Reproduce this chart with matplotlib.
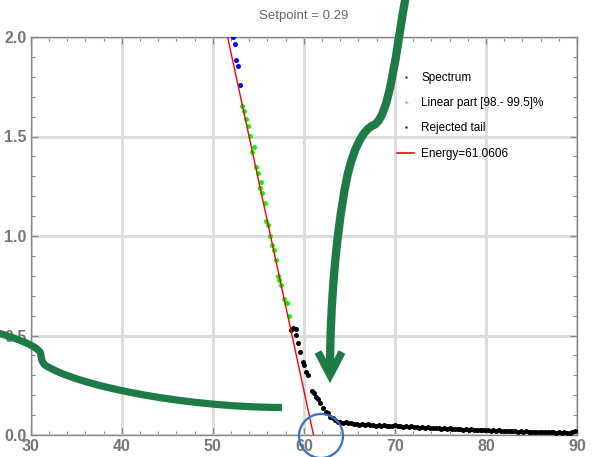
import matplotlib
matplotlib.use("Agg")
import matplotlib.pyplot as plt
import numpy as np
from matplotlib.lines import Line2D
from matplotlib.path import Path
from matplotlib.patches import PathPatch, Ellipse

plt.rcParams['font.family'] = ['Liberation Sans', 'DejaVu Sans']

# spectrum points (energy, intensity)
blue_x = [52.18, 52.40, 52.58, 52.80, 53.02]
blue_y = [2.00, 1.963, 1.883, 1.854, 1.757]

green_x = [53.24, 53.46, 53.65, 53.87, 54.09, 54.30, 54.49, 54.71, 54.93, 55.15,
           55.33, 55.40, 55.68, 55.84, 56.03, 56.25, 56.50, 56.69, 56.94, 57.13,
           57.30, 57.52, 57.79, 58.04, 58.18, 58.40]
green_y = [1.655, 1.628, 1.586, 1.553, 1.501, 1.422, 1.446, 1.347, 1.318, 1.239,
           1.273, 1.216, 1.166, 1.074, 1.055, 1.001, 0.955, 0.930, 0.879, 0.801,
           0.779, 0.754, 0.685, 0.665, 0.663, 0.599]

tail_x = [58.62, 58.84, 59.10, 59.17, 59.39, 59.61, 59.91, 60.02, 60.27, 60.49,
          60.86, 61.11, 61.37, 61.55, 61.77, 62.14, 62.40, 62.62, 62.87, 63.17,
          63.42, 63.78,
          64.0, 64.3, 64.6, 64.9, 65.2, 65.5, 65.8, 66.1, 66.4, 66.7,
          67.0, 67.3, 67.6, 67.9, 68.2, 68.5, 68.8, 69.1, 69.4, 69.7,
          70.0, 70.3, 70.6, 70.9, 71.2, 71.5, 71.8, 72.1, 72.4, 72.7,
          73.0, 73.3, 73.6, 73.9, 74.2, 74.5, 74.8, 75.1, 75.4, 75.7,
          76.0, 76.3, 76.6, 76.9, 77.2, 77.5, 77.8, 78.1, 78.4, 78.7,
          79.0, 79.3, 79.6, 79.9, 80.2, 80.5, 80.8, 81.1, 81.4, 81.7,
          82.0, 82.3, 82.6, 82.9, 83.2, 83.5, 83.8, 84.1, 84.4, 84.7,
          85.0, 85.3, 85.6, 85.9, 86.2, 86.5, 86.8, 87.1, 87.4, 87.7,
          88.0, 88.3, 88.6, 88.9, 89.2, 89.5, 89.8]
tail_y = [0.526, 0.539, 0.533, 0.501, 0.462, 0.418, 0.368, 0.352, 0.318, 0.303,
          0.221, 0.209, 0.193, 0.179, 0.159, 0.134, 0.117, 0.109, 0.092, 0.084,
          0.075, 0.067,
          0.066, 0.061, 0.064, 0.058, 0.060, 0.055, 0.057, 0.052, 0.056, 0.050,
          0.054, 0.049, 0.052, 0.047, 0.050, 0.046, 0.049, 0.044, 0.047, 0.045,
          0.048, 0.043, 0.046, 0.041, 0.044, 0.040, 0.043, 0.039, 0.041, 0.037,
          0.040, 0.036, 0.038, 0.034, 0.037, 0.033, 0.035, 0.032, 0.034, 0.030,
          0.033, 0.029, 0.031, 0.028, 0.030, 0.027, 0.029, 0.026, 0.028, 0.025,
          0.027, 0.024, 0.026, 0.023, 0.025, 0.022, 0.024, 0.021, 0.023, 0.020,
          0.022, 0.019, 0.021, 0.018, 0.020, 0.017, 0.019, 0.016, 0.018, 0.016,
          0.017, 0.015, 0.016, 0.014, 0.016, 0.013, 0.015, 0.013, 0.014, 0.012,
          0.014, 0.012, 0.013, 0.011, 0.012, 0.013, 0.018]

energy = 61.0606
slope = -0.212
fit_x = [51.5, energy]

W, H = 599, 457
fig = plt.figure(figsize=(W / 100, H / 100), dpi=100)
ax = fig.add_axes([30.7 / W, 1 - 435 / H, (577 - 30.7) / W, (435 - 37) / H])

ax.plot(blue_x, blue_y, 'o', color='#0000ff', ms=3.6, mec='none', zorder=3)
ax.plot(green_x, green_y, 'o', color='#00ff00', ms=3.6, mec='none', zorder=3)
ax.plot(tail_x, tail_y, 'o', color='black', ms=3.6, mec='none', zorder=3)
fit_y = [slope * (x - energy) for x in fit_x]
ax.plot(fit_x, fit_y, color='red', lw=1.0, zorder=4)

ax.set_xlim(30, 90)
ax.set_ylim(0, 2.0)
ax.set_xticks([30, 40, 50, 60, 70, 80, 90])
ax.set_yticks([0.0, 0.5, 1.0, 1.5, 2.0])
ax.set_yticklabels(['0.0', '0.5', '1.0', '1.5', '2.0'])
ax.set_xticks(np.arange(30, 91, 2), minor=True)
ax.set_yticks(np.arange(0, 2.01, 0.1), minor=True)
ax.grid(True, which='major', color='#dcdcdc', lw=2.2, zorder=0)
ax.set_axisbelow(True)
ax.tick_params(which='both', direction='in', top=True, right=True, color='#888888',
               labelcolor='#777777', labelsize=11.5, pad=3)
ax.tick_params(which='major', length=5, width=0.9)
ax.tick_params(which='minor', length=3, width=0.8)
for lab in ax.get_xticklabels() + ax.get_yticklabels():
    lab.set_fontweight('bold')
for s in ax.spines.values():
    s.set_color('#888888')
    s.set_linewidth(1.0)

handles = [
    Line2D([], [], ls='none', marker='s', ms=1.6, color='#0000ff', mec='none'),
    Line2D([], [], ls='none', marker='s', ms=1.6, color='#00ff00', mec='none'),
    Line2D([], [], ls='none', marker='s', ms=1.6, color='black', mec='none'),
    Line2D([], [], color='red', lw=1.2),
]
labels = ['Spectrum', 'Linear part [98.- 99.5]%', 'Rejected tail', 'Energy=61.0606']
ax.legend(handles, labels, loc='upper left', bbox_to_anchor=(397 / W, 1 - 72 / H),
          bbox_transform=fig.transFigure, frameon=False, fontsize=8.5,
          handlelength=1.45, handletextpad=0.6, labelspacing=1.12,
          borderpad=0, borderaxespad=0)

fig.text(304 / W, 1 - 16 / H, 'Setpoint = 0.29', ha='center', va='center',
         color='#666666', fontsize=9.5)

# hand-drawn annotations (pixel coords, origin top-left)
def fpt(p):
    return (p[0] / W, 1 - p[1] / H)

dark_green = '#1e7b47'
C4 = Path.CURVE4
arrow_pts = [(406, -5), (396, 50), (390, 116), (374, 125),
             (364, 128), (350, 150), (343, 200),
             (337, 235), (330, 300), (330, 372)]
arrow_codes = [Path.MOVETO] + [C4] * 9
fig.add_artist(PathPatch(Path([fpt(p) for p in arrow_pts], arrow_codes),
                         transform=fig.transFigure, fc='none', ec=dark_green,
                         lw=6.0, capstyle='butt'))
fig.add_artist(Line2D([318 / W, 330 / W, 342 / W],
                      [1 - 352 / H, 1 - 375 / H, 1 - 352 / H],
                      transform=fig.transFigure, color=dark_green, lw=5.5,
                      solid_joinstyle='miter', solid_capstyle='butt'))

left_pts = [(-2, 333), (15, 338), (35, 345), (40, 352),
            (42, 356), (40, 360), (45, 365),
            (75, 385), (180, 407), (282, 407.5)]
left_codes = [Path.MOVETO] + [C4] * 9
fig.add_artist(PathPatch(Path([fpt(p) for p in left_pts], left_codes),
                         transform=fig.transFigure, fc='none', ec=dark_green,
                         lw=5.2, capstyle='butt'))

fig.add_artist(Ellipse(fpt((321, 436)), 44 / W, 44 / H, transform=fig.transFigure,
                       fc='none', ec='#3b6fc0', lw=1.6))

fig.savefig('out.png', dpi=100)
